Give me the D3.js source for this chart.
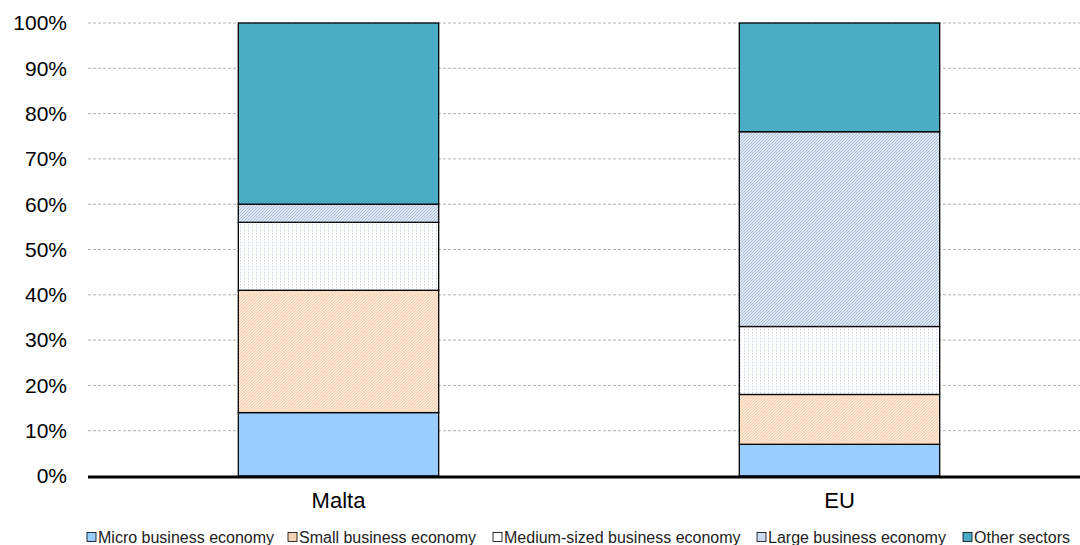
<!DOCTYPE html>
<html>
<head>
<meta charset="utf-8">
<script src="https://cdn.jsdelivr.net/npm/d3@7"></script>
<style>
  body { margin: 0; background: #fff; }
  svg { font-family: "Liberation Sans", Arial, sans-serif; }
</style>
</head>
<body>
<div id="wrapper"></div>
<script>
const categories = ["Malta", "EU"]
const seriesNames = ["Micro business economy", "Small business economy", "Medium-sized business economy", "Large business economy", "Other sectors"]
const micro = [14, 7]
const small = [27, 11]
const medium = [15, 15]
const large = [4, 43]
const other = [40, 24]
const yTicks = [0, 10, 20, 30, 40, 50, 60, 70, 80, 90, 100]

const width = 1080
let dimensions = {
    width: width,
    height: 545,
    margin: { top: 23, right: 0, bottom: 69, left: 88 },
}
dimensions.boundedWidth = dimensions.width - dimensions.margin.left - dimensions.margin.right
dimensions.boundedHeight = dimensions.height - dimensions.margin.top - dimensions.margin.bottom

const svg = d3.select("#wrapper")
    .append("svg")
    .attr("width", dimensions.width)
    .attr("height", dimensions.height)

// patterns
const defs = svg.append("defs")
const hatch = (id, bg, fg, size, sw) => {
    const p = defs.append("pattern")
        .attr("id", id)
        .attr("patternUnits", "userSpaceOnUse")
        .attr("width", size).attr("height", size)
    p.append("rect").attr("width", size).attr("height", size).attr("fill", bg)
    p.append("path")
        .attr("d", `M0,${size} L${size},0 M${-size / 2},${size / 2} L${size / 2},${-size / 2} M${size / 2},${size * 1.5} L${size * 1.5},${size / 2}`)
        .attr("stroke", fg).attr("stroke-width", sw)
}
hatch("pSmall", "#fde8d6", "#f3c7a3", 3, 0.9)
hatch("pLarge", "#dde6f3", "#a9bcd8", 3, 0.9)
const dots = defs.append("pattern")
    .attr("id", "pMedium")
    .attr("patternUnits", "userSpaceOnUse")
    .attr("width", 4).attr("height", 3)
dots.append("rect").attr("width", 4).attr("height", 3).attr("fill", "#ffffff")
dots.append("rect").attr("x", 0).attr("y", 0).attr("width", 1).attr("height", 1.5).attr("fill", "#c9d6ea")

const fills = ["#99ccff", "url(#pSmall)", "url(#pMedium)", "url(#pLarge)", "#4bacc6"]
const legendFills = ["#99ccff", "#f6d2b5", "#ffffff", "#cdd9ec", "#4bacc6"]

const data = categories.map((c, i) => ({
    cat: c,
    vals: [micro[i], small[i], medium[i], large[i], other[i]]
}))

const bounds = svg.append("g")
    .attr("transform", `translate(${dimensions.margin.left}, ${dimensions.margin.top})`)

const yScale = d3.scaleLinear()
    .domain([0, 100])
    .range([dimensions.boundedHeight, 0])

const xScale = d3.scaleBand()
    .domain(categories)
    .range([0, 1002])
    .paddingInner(0.6)
    .paddingOuter(0.3)

// grid
bounds.append("g")
    .selectAll("line")
    .data(yTicks.filter(d => d > 0))
    .enter()
    .append("line")
    .attr("x1", 0)
    .attr("x2", dimensions.boundedWidth)
    .attr("y1", d => yScale(d))
    .attr("y2", d => yScale(d))
    .attr("stroke", "#b3b3b3")
    .attr("stroke-width", 1)
    .attr("stroke-dasharray", "3,2")

// y axis labels
bounds.append("g")
    .selectAll("text")
    .data(yTicks)
    .enter()
    .append("text")
    .attr("x", -21)
    .attr("y", d => yScale(d))
    .attr("dy", "0.35em")
    .attr("text-anchor", "end")
    .attr("font-size", 21)
    .attr("fill", "#000")
    .text(d => d + "%")

// stacked bars
const stack = d3.stack()
    .keys(d3.range(5))
    .value((d, k) => d.vals[k])
const series = stack(data)

bounds.append("g")
    .selectAll("g")
    .data(series)
    .enter()
    .append("g")
    .attr("fill", d => fills[d.key])
    .selectAll("rect")
    .data(d => d)
    .enter()
    .append("rect")
    .attr("x", d => xScale(d.data.cat))
    .attr("width", xScale.bandwidth())
    .attr("y", d => yScale(d[1]))
    .attr("height", d => yScale(d[0]) - yScale(d[1]))
    .attr("stroke", "#000")
    .attr("stroke-width", 1.3)

// x axis line
bounds.append("line")
    .attr("x1", 0)
    .attr("x2", dimensions.boundedWidth)
    .attr("y1", yScale(0) + 1)
    .attr("y2", yScale(0) + 1)
    .attr("stroke", "#000")
    .attr("stroke-width", 3)

bounds.append("g")
    .selectAll("text")
    .data(categories)
    .enter()
    .append("text")
    .attr("x", d => xScale(d) + xScale.bandwidth() / 2)
    .attr("y", yScale(0) + 32)
    .attr("text-anchor", "middle")
    .attr("font-size", 22)
    .text(d => d)

// legend
const legendX = [87, 288, 493, 757, 963]
const legend = svg.append("g")
    .attr("transform", `translate(0, 537)`)
const items = legend.selectAll("g")
    .data(seriesNames)
    .enter()
    .append("g")
    .attr("transform", (d, i) => `translate(${legendX[i]}, 0)`)
items.append("rect")
    .attr("x", 0).attr("y", -4.5)
    .attr("width", 9).attr("height", 9)
    .attr("fill", (d, i) => legendFills[i])
    .attr("stroke", "#000").attr("stroke-width", 0.8)
items.append("text")
    .attr("x", 11)
    .attr("dy", "0.35em")
    .attr("font-size", 16)
    .attr("fill", "#222")
    .text(d => d)
</script>
</body>
</html>
